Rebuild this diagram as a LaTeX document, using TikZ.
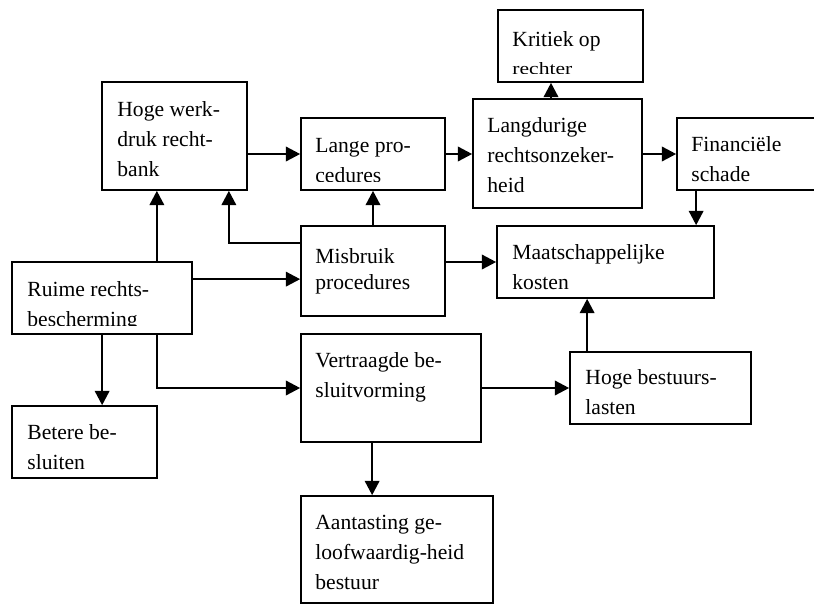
\documentclass[tikz,border=0pt]{standalone}
\usepackage{fontspec}
\setmainfont{Liberation Serif}
\usepackage{graphicx}
\usetikzlibrary{arrows.meta}
\tikzset{
  blk/.style={draw, line width=1.3pt, rectangle, inner sep=0pt},
  txt/.style={font=\fontsize{16.2}{22.5}\selectfont, align=left, inner sep=0pt, anchor=north west},
  conn/.style={line width=1.3pt, -{Triangle[length=10.75pt,width=11pt]}},
}
\newcommand\boxtext[4]{%
  \begin{scope}
    \clip ([shift={(1,1)}]#1.north west) rectangle ([shift={(-1,-9.5)}]#1.south east);
    \node[txt] at ([shift={(#2,#3)}]#1.north west) {\rule{0pt}{12pt}#4};
  \end{scope}}
\begin{document}
\begin{tikzpicture}[x=0.75pt,y=-0.75pt]
\useasboundingbox (0,0) rectangle (814,604);
\clip (0,0) rectangle (814,604);
\fill[white] (0,0) rectangle (814,604);
% boxes
\node[blk, minimum width=108.75pt, minimum height=54pt]    (kr) at (570.5,46)  {};
\node[blk, minimum width=108.75pt, minimum height=81pt]    (hw) at (174.5,136) {};
\node[blk, minimum width=108pt,    minimum height=54pt]    (lp) at (373,154)   {};
\node[blk, minimum width=126.75pt, minimum height=81.75pt] (lr) at (557.5,153.5) {};
\node[blk, minimum width=108.75pt, minimum height=54pt]    (fs) at (749.5,154) {};
\node[blk, minimum width=108pt,    minimum height=67.5pt]  (mp) at (373,271)   {};
\node[blk, minimum width=162.75pt, minimum height=54pt]    (mk) at (605.5,262) {};
\node[blk, minimum width=135pt,    minimum height=54pt]    (rr) at (102,298)   {};
\node[blk, minimum width=135pt,    minimum height=81pt]    (vb) at (391,388)   {};
\node[blk, minimum width=135.75pt, minimum height=54pt]    (hb) at (660.5,388) {};
\node[blk, minimum width=108.75pt, minimum height=54pt]    (bb) at (84.5,442)  {};
\node[blk, minimum width=144pt,    minimum height=80.25pt] (ag) at (397,549.5) {};
% texts
\boxtext{kr}{15}{21}{Kritiek op\\[-1.5pt]\scalebox{1}[0.8]{rechter}}
\boxtext{hw}{16}{19}{Hoge werk-\\druk recht-\\bank}
\boxtext{lp}{15}{19}{Lange pro-\\cedures}
\boxtext{lr}{15}{18}{Langdurige\\rechtsonzeker-\\heid}
\boxtext{fs}{15}{18}{Financiële\\schade}
\boxtext{mp}{15}{22}{Misbruik\\[-3pt]procedures}
\boxtext{mk}{16}{18}{Maatschappelijke\\kosten}
\boxtext{rr}{16}{19}{Ruime rechts-\\bescherming}
\boxtext{vb}{15}{18}{Vertraagde be-\\sluitvorming}
\boxtext{hb}{16}{17}{Hoge bestuurs-\\lasten}
\boxtext{bb}{16}{18}{Betere be-\\sluiten}
\boxtext{ag}{15}{18}{Aantasting ge-\\loofwaardig-heid\\bestuur}
% connectors
\draw[conn] (hw.east |- lp.west) -- (lp.west);
\draw[conn] (lp.east) -- (lp.east -| lr.west);
\draw[conn] (lr.east |- fs.west) -- (fs.west);
\coordinate (p4) at ([shift={(-6.5,0)}]lr.north);
\draw[conn] (p4) -- (p4 |- kr.south);
\coordinate (p5) at ([shift={(20,0)}]fs.south west);
\draw[conn] (p5) -- (p5 |- mk.north);
\draw[conn] (mp.north) -- (lp.south);
\coordinate (p7a) at ([shift={(0,18)}]mp.north west);
\coordinate (p7b) at ([shift={(-19,0)}]hw.south east);
\draw[conn] (p7a) -| (p7b);
\coordinate (p8) at ([shift={(-36,0)}]rr.north east);
\draw[conn] (p8) -- (p8 |- hw.south);
\coordinate (p9) at ([shift={(0,18)}]rr.north east);
\draw[conn] (p9) -- (p9 -| mp.west);
\draw[conn] (mp.east |- mk.west) -- (mk.west);
\coordinate (p11) at ([shift={(91,0)}]rr.south west);
\draw[conn] (p11) -- (p11 |- bb.north);
\coordinate (p12) at ([shift={(-36,0)}]rr.south east);
\draw[conn] (p12) |- (vb.west);
\draw[conn] (vb.east) -- (vb.east -| hb.west);
\coordinate (p14) at ([shift={(72,0)}]vb.south west);
\draw[conn] (p14) -- (p14 |- ag.north);
\coordinate (p15) at ([shift={(18,0)}]hb.north west);
\draw[conn] (p15) -- (p15 |- mk.south);
\end{tikzpicture}
\end{document}
